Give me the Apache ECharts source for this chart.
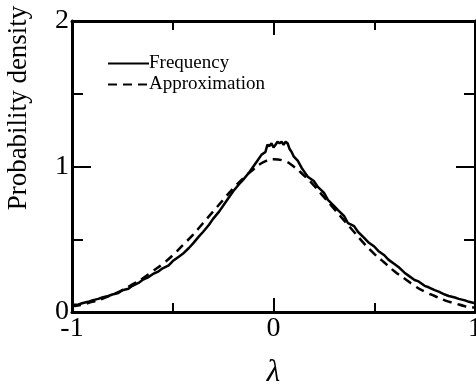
<!DOCTYPE html>
<html>
<head>
<meta charset="utf-8">
<script src="https://cdn.jsdelivr.net/npm/echarts@6/dist/echarts.min.js"></script>
<style>
html,body{margin:0;padding:0;background:#fff;}
#main{width:476px;height:385px;}
</style>
</head>
<body>
<div id="main"></div>
<script>
// lambda positions and densities
var freqX = [-1.00,-0.97,-0.95,-0.92,-0.90,-0.87,-0.85,-0.82,-0.80,-0.77,-0.75,-0.72,-0.70,-0.67,-0.65,-0.62,-0.60,-0.57,-0.55,-0.52,-0.50,-0.47,-0.45,-0.42,-0.40,-0.37,-0.35,-0.32,-0.30,-0.27,-0.25,-0.22,-0.20,-0.17,-0.15,-0.12,-0.10,-0.08,-0.06,-0.04,-0.03,-0.02,-0.01,0.00,0.01,0.02,0.03,0.04,0.05,0.06,0.07,0.08,0.09,0.10,0.12,0.14,0.15,0.17,0.20,0.22,0.25,0.27,0.30,0.32,0.35,0.37,0.40,0.42,0.45,0.47,0.50,0.52,0.55,0.57,0.60,0.62,0.65,0.67,0.70,0.72,0.75,0.77,0.80,0.82,0.85,0.87,0.90,0.92,0.95,0.97,1.00];
var freqY = [0.05,0.05,0.06,0.07,0.08,0.09,0.10,0.11,0.12,0.13,0.15,0.16,0.18,0.20,0.22,0.24,0.26,0.28,0.30,0.32,0.35,0.38,0.40,0.44,0.47,0.52,0.55,0.60,0.64,0.69,0.73,0.79,0.83,0.88,0.91,0.96,1.00,1.04,1.08,1.10,1.15,1.14,1.16,1.13,1.15,1.17,1.16,1.17,1.15,1.17,1.16,1.12,1.10,1.07,1.04,0.99,0.97,0.93,0.90,0.86,0.82,0.77,0.73,0.70,0.66,0.61,0.59,0.55,0.51,0.48,0.45,0.42,0.39,0.36,0.33,0.31,0.27,0.25,0.22,0.21,0.18,0.17,0.15,0.14,0.12,0.11,0.10,0.09,0.08,0.07,0.06];
var approxX = [-1.00,-0.95,-0.90,-0.85,-0.80,-0.75,-0.70,-0.65,-0.60,-0.55,-0.50,-0.45,-0.40,-0.35,-0.30,-0.25,-0.20,-0.15,-0.10,-0.05,0.00,0.05,0.10,0.15,0.20,0.25,0.30,0.35,0.40,0.45,0.50,0.55,0.60,0.65,0.70,0.75,0.80,0.85,0.90,0.95,1.00];
var approxY = [0.04,0.05,0.07,0.09,0.12,0.15,0.19,0.23,0.28,0.33,0.39,0.46,0.53,0.61,0.69,0.77,0.85,0.92,0.98,1.03,1.05,1.04,1.00,0.94,0.87,0.79,0.71,0.63,0.55,0.47,0.40,0.34,0.28,0.23,0.18,0.14,0.11,0.08,0.06,0.04,0.03];
var xTicks = [-1, 0, 1];
var yTicks = [0, 1, 2];

function pairs(xs, ys){
    var res = [];
    for (var i = 0; i < xs.length; i++) {
        res.push([xs[i], ys[i]]);
    }
    return res;
}

var myChart = echarts.init(document.getElementById('main'));
var serif = '"Liberation Serif", "DejaVu Serif", serif';
var axisLine = {show: true, onZero: false, lineStyle: {color: '#000', width: 3}};
var tickStyle = {width: 2, color: '#000'};

var option = {
    animation: false,
    backgroundColor: '#fff',
    grid: {left: 72, top: 21, width: 403, height: 291, containLabel: false, outerBoundsMode: 'none'},
    legend: {
        orient: 'vertical',
        left: 107,
        top: 54,
        padding: 0,
        itemWidth: 41,
        itemHeight: 14,
        itemGap: 2,
        itemStyle: {opacity: 0},
        textStyle: {fontFamily: serif, fontSize: 19, lineHeight: 19, color: '#000', padding: [0, 0, 0, -5]},
        data: ['Frequency', 'Approximation']
    },
    graphic: [{
        type: 'text',
        x: 19, y: 108,
        rotation: Math.PI / 2,
        style: {
            text: 'Probability density',
            font: '27px ' + serif,
            fill: '#000',
            align: 'center',
            verticalAlign: 'middle'
        }
    }],
    xAxis: [{
        type: 'value', min: -1, max: 1, interval: 1, position: 'bottom',
        axisLine: axisLine,
        axisTick: {show: true, inside: true, length: 14, lineStyle: tickStyle},
        minorTick: {show: true, splitNumber: 2, length: 9, lineStyle: tickStyle},
        splitLine: {show: false},
        axisLabel: {
            fontFamily: serif, fontSize: 28, color: '#000', margin: 3,
            formatter: function (v) { return xTicks.indexOf(v) >= 0 ? String(v) : ''; }
        },
        name: 'λ', nameLocation: 'middle', nameGap: 45,
        nameTextStyle: {fontFamily: serif, fontSize: 31, fontStyle: 'italic', color: '#000'}
    }, {
        type: 'value', min: -1, max: 1, interval: 1, position: 'top',
        axisLine: axisLine,
        axisTick: {show: true, inside: true, length: 14, lineStyle: tickStyle},
        minorTick: {show: true, splitNumber: 2, length: 9, lineStyle: tickStyle},
        splitLine: {show: false},
        axisLabel: {show: false}
    }],
    yAxis: [{
        type: 'value', min: 0, max: 2, interval: 1, position: 'left',
        axisLine: axisLine,
        axisTick: {show: true, inside: true, length: 19, lineStyle: tickStyle},
        minorTick: {show: true, splitNumber: 2, length: 11, lineStyle: tickStyle},
        splitLine: {show: false},
        axisLabel: {
            fontFamily: serif, fontSize: 28, color: '#000', margin: 3,
            formatter: function (v) { return yTicks.indexOf(v) >= 0 ? String(v) : ''; }
        }
    }, {
        type: 'value', min: 0, max: 2, interval: 1, position: 'right',
        axisLine: axisLine,
        axisTick: {show: true, inside: true, length: 19, lineStyle: tickStyle},
        minorTick: {show: true, splitNumber: 2, length: 11, lineStyle: tickStyle},
        splitLine: {show: false},
        axisLabel: {show: false}
    }],
    series: [{
        name: 'Frequency',
        type: 'line',
        symbol: 'none',
        xAxisIndex: 0, yAxisIndex: 0,
        lineStyle: {color: '#000', width: 2.5},
        itemStyle: {color: '#000'},
        data: pairs(freqX, freqY)
    }, {
        name: 'Approximation',
        type: 'line',
        symbol: 'none',
        smooth: true,
        xAxisIndex: 0, yAxisIndex: 0,
        lineStyle: {color: '#000', width: 2.5, type: [9, 6]},
        itemStyle: {color: '#000'},
        data: pairs(approxX, approxY)
    }]
};

myChart.setOption(option);
window.onresize = myChart.resize;
</script>
</body>
</html>
